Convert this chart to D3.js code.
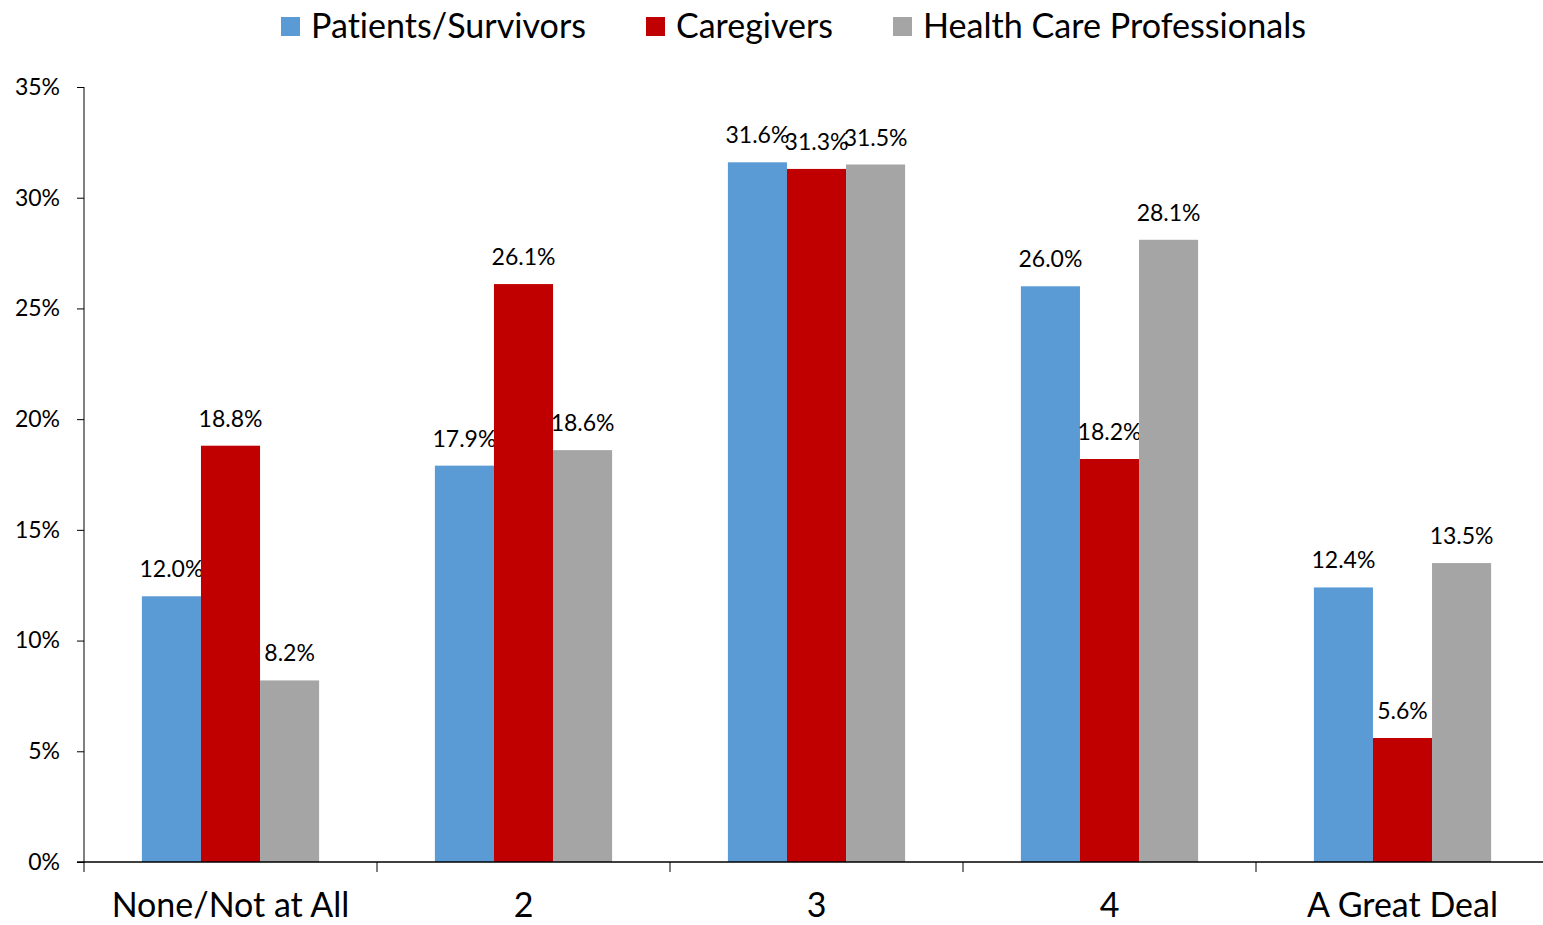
<!DOCTYPE html>
<meta charset="utf-8">
<body style="margin:0;background:#fff">

<svg width='1543' height='925'></svg>

<script src="https://d3js.org/d3.v7.min.js"></script>
<script>

// data
var categories = ['None/Not at All', '2', '3', '4', 'A Great Deal'];
var seriesNames = ['Patients/Survivors', 'Caregivers', 'Health Care Professionals'];
var patients = [12.0, 17.9, 31.6, 26.0, 12.4];
var caregivers = [18.8, 26.1, 31.3, 18.2, 5.6];
var professionals = [8.2, 18.6, 31.5, 28.1, 13.5];
var yTicks = [0, 5, 10, 15, 20, 25, 30, 35];

var colors = ['#5B9BD5', '#C00000', '#A5A5A5'];
var series = [patients, caregivers, professionals];
var font = 'Lato, "Open Sans", sans-serif';

var svg = d3.select('svg')
  .style('font-variant-ligatures', 'none');

// plot runs a few px past the right edge of the picture
var plotLeft = 84, plotRight = 1549, plotTop = 87, plotBottom = 862;

var x0 = d3.scaleBand().domain(categories).range([plotLeft, plotRight]).paddingInner(0).paddingOuter(0);
var x1 = d3.scaleBand().domain(seriesNames).range([0, x0.bandwidth()]).paddingInner(0).paddingOuter(0.98);
var y = d3.scaleLinear().domain([0, 35]).range([plotBottom, plotTop]);

// bars
series.forEach(function(vals, si) {
  var g = svg.append('g');
  g.selectAll('rect').data(vals).enter().append('rect')
    .attr('x', function(d, i) { return x0(categories[i]) + x1(seriesNames[si]); })
    .attr('y', function(d) { return y(d); })
    .attr('width', x1.bandwidth())
    .attr('height', function(d) { return plotBottom - y(d); })
    .attr('fill', colors[si]);
  g.selectAll('text').data(vals).enter().append('text')
    .attr('x', function(d, i) { return x0(categories[i]) + x1(seriesNames[si]) + x1.bandwidth() / 2; })
    .attr('y', function(d) { return y(d) - 19; })
    .attr('text-anchor', 'middle')
    .style('font-family', font)
    .style('font-size', '23px')
    .attr('fill', '#000')
    .text(function(d) { return d.toFixed(1) + '%'; });
});

// y axis
var yAxis = svg.append('g')
  .attr('transform', 'translate(' + plotLeft + ',0)')
  .call(d3.axisLeft(y).tickValues(yTicks).tickSize(7).tickPadding(17).tickFormat(function(d) { return d + '%'; }));
yAxis.select('.domain').attr('stroke', '#000').attr('d', 'M0,' + plotTop + 'V' + plotBottom);
yAxis.selectAll('line').attr('stroke', '#000');
yAxis.selectAll('text').style('font-family', font).style('font-size', '23px').attr('fill', '#000');

// x axis: baseline + category separator ticks
var xAxis = svg.append('g').attr('transform', 'translate(0,' + plotBottom + ')');
xAxis.append('line').attr('x1', plotLeft - 7).attr('x2', plotRight).attr('stroke', '#000').attr('stroke-width', 1.3);
xAxis.selectAll('.sep').data(categories).enter().append('line')
  .attr('x1', function(d) { return x0(d); })
  .attr('x2', function(d) { return x0(d); })
  .attr('y1', 0).attr('y2', 10)
  .attr('stroke', '#000');
xAxis.selectAll('.cat').data(categories).enter().append('text')
  .attr('x', function(d) { return x0(d) + x0.bandwidth() / 2; })
  .attr('y', 55)
  .attr('text-anchor', 'middle')
  .style('font-family', font)
  .style('font-size', '34px')
  .attr('fill', '#000')
  .text(function(d) { return d; });

// legend
var legendX = [281, 646, 893];
var legendW = [275, 157, 383];
var legend = svg.append('g');
seriesNames.forEach(function(name, i) {
  legend.append('rect')
    .attr('x', legendX[i]).attr('y', 17)
    .attr('width', 19).attr('height', 19)
    .attr('fill', colors[i]);
  legend.append('text')
    .attr('x', legendX[i] + 30).attr('y', 38)
    .attr('textLength', legendW[i])
    .attr('lengthAdjust', 'spacingAndGlyphs')
    .style('font-family', font)
    .style('font-size', '34px')
    .attr('fill', '#000')
    .text(name);
});

</script>
